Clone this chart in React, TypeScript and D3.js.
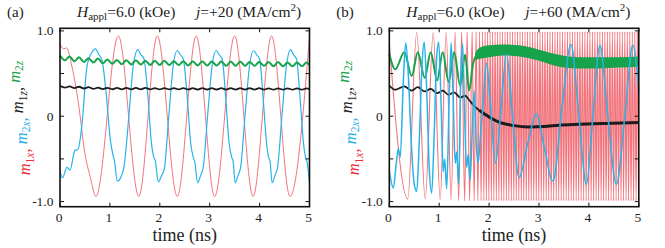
import React from 'react';
import * as d3 from 'd3';

const width = 665;
const height = 248;
const font = 'Liberation Serif';

const timeTicks = [0, 1, 2, 3, 4, 5];
const yMajor = [-1, 0, 1];
const yMinor = [-0.5, 0.5];
const yTickLabels = ['-1.0', '0', '1.0'];

const colors = { m1x: '#f2737b', m2x: '#27b3ea', m1z: '#1c1c1c', m2z: '#16a34c' };
const labelColors = { m1x: '#ee2d38', m2x: '#1fb0e8', m1z: '#222222', m2z: '#17a04a' };

// ---- panel (a), j = +20 ----
const redA = [
  [0, 0.85], [0.07, 0.79], [0.13, 0.8], [0.24, 0.58], [0.37, 0.15], [0.5, -0.44], [0.61, -0.72], [0.72, -0.94],
  [1.17, 0.94], [1.58, -0.94], [1.95, 0.94], [2.35, -0.94], [2.73, 0.94], [3.1, -0.94], [3.5, 0.94],
  [3.87, -0.94], [4.24, 0.94], [4.61, -0.94], [5.0, 0.93],
];
const blueA = [
  [0, -0.65], [0.05, -0.72], [0.14, -0.6], [0.2, -0.63], [0.3, -0.4], [0.36, -0.39], [0.44, -0.1], [0.54, 0.58],
  [0.64, 0.75], [0.71, 0.79], [0.78, 0.72], [0.84, 0.66], [0.92, 0.3], [1.01, -0.28], [1.06, -0.45], [1.09, -0.52],
  [1.15, -0.76], [1.23, -0.7], [1.28, -0.6], [1.38, 0.0], [1.47, 0.6], [1.56, 0.78], [1.62, 0.72], [1.68, 0.68],
  [1.76, 0.25], [1.83, -0.3], [1.88, -0.48], [1.91, -0.52], [1.97, -0.77], [2.04, -0.69], [2.09, -0.62],
  [2.18, 0.0], [2.27, 0.6], [2.35, 0.77], [2.41, 0.72], [2.47, 0.67], [2.55, 0.22], [2.62, -0.32], [2.67, -0.48],
  [2.7, -0.53], [2.76, -0.78], [2.82, -0.69], [2.87, -0.6], [2.96, 0.02], [3.05, 0.6], [3.13, 0.77], [3.19, 0.72],
  [3.25, 0.67], [3.32, 0.22], [3.39, -0.32], [3.44, -0.48], [3.47, -0.53], [3.51, -0.78], [3.57, -0.69],
  [3.62, -0.6], [3.71, 0.02], [3.8, 0.6], [3.88, 0.77], [3.94, 0.72], [4.0, 0.67], [4.07, 0.22], [4.14, -0.32],
  [4.18, -0.48], [4.21, -0.53], [4.25, -0.78], [4.31, -0.69], [4.36, -0.6], [4.45, 0.02], [4.54, 0.6],
  [4.62, 0.78], [4.68, 0.72], [4.74, 0.67], [4.81, 0.22], [4.88, -0.32], [4.92, -0.48], [4.95, -0.53], [5.0, -0.78],
];
const greenA = [
  [0, 0.71], [0.1, 0.655], [0.19, 0.7], [0.29, 0.645], [0.38, 0.69], [0.48, 0.635], [0.57, 0.68], [0.67, 0.63],
  [0.76, 0.675], [0.86, 0.62], [0.95, 0.665], [1.05, 0.615], [1.14, 0.66], [1.24, 0.61], [1.33, 0.655],
  [1.43, 0.605], [1.52, 0.655], [1.62, 0.605], [1.71, 0.65], [1.81, 0.6], [1.9, 0.65], [2.0, 0.6], [2.09, 0.65],
  [2.19, 0.6], [2.28, 0.645], [2.38, 0.6], [2.47, 0.645], [2.57, 0.595], [2.66, 0.645], [2.76, 0.595],
  [2.85, 0.645], [2.95, 0.595], [3.04, 0.64], [3.14, 0.595], [3.23, 0.64], [3.33, 0.59], [3.42, 0.64],
  [3.52, 0.59], [3.61, 0.64], [3.71, 0.59], [3.8, 0.635], [3.9, 0.59], [3.99, 0.635], [4.09, 0.59],
  [4.18, 0.635], [4.28, 0.585], [4.37, 0.635], [4.47, 0.585], [4.56, 0.63], [4.66, 0.585], [4.75, 0.63],
  [4.85, 0.585], [4.94, 0.63], [5.0, 0.6],
];
const blackA = [
  [0, 0.355], [0.1, 0.335], [0.19, 0.35], [0.29, 0.33], [0.38, 0.345], [0.48, 0.325], [0.57, 0.34], [0.67, 0.32],
  [0.76, 0.335], [0.86, 0.318], [0.95, 0.333], [1.05, 0.316], [1.14, 0.332], [1.24, 0.315], [1.33, 0.332],
  [1.43, 0.315], [1.52, 0.331], [1.62, 0.315], [1.71, 0.331], [1.81, 0.314], [1.9, 0.33], [2.0, 0.314],
  [2.09, 0.33], [2.19, 0.314], [2.28, 0.33], [2.38, 0.314], [2.47, 0.33], [2.57, 0.313], [2.66, 0.329],
  [2.76, 0.313], [2.85, 0.329], [2.95, 0.313], [3.04, 0.329], [3.14, 0.313], [3.23, 0.329], [3.33, 0.312],
  [3.42, 0.328], [3.52, 0.312], [3.61, 0.328], [3.71, 0.312], [3.8, 0.328], [3.9, 0.312], [3.99, 0.328],
  [4.09, 0.311], [4.18, 0.327], [4.28, 0.311], [4.37, 0.327], [4.47, 0.311], [4.56, 0.327], [4.66, 0.311],
  [4.75, 0.327], [4.85, 0.311], [4.94, 0.327], [5.0, 0.318],
];

// ---- panel (b), j = +60 ----
const redBEarly = [
  [0, 0.86], [0.37, -0.97], [0.55, 0.98], [0.72, -0.97], [0.88, 0.98], [1.02, -0.98], [1.14, 0.98], [1.24, -0.98],
  [1.32, 0.99], [1.39, -0.99], [1.45, 0.99], [1.51, -0.99], [1.56, 0.99], [1.61, -0.99], [1.66, 0.99],
];
// fast precession: times of successive extrema (min, max, min, ...)
const redBFastTimes = [
  1.7, 1.74, 1.775, 1.81, 1.84, 1.87, 1.895, 1.92, 1.945, 1.97, 1.995, 2.02, 2.045, 2.07, 2.095, 2.12, 2.145,
  2.17, 2.195, 2.22, 2.245, 2.27, 2.295, 2.32, 2.345, 2.37, 2.395, 2.42, 2.445, 2.47, 2.495, 2.52, 2.545, 2.57,
  2.595, 2.62, 2.645, 2.67, 2.695, 2.72, 2.745, 2.77, 2.795, 2.82, 2.845, 2.87, 2.895, 2.92, 2.945, 2.97, 2.995,
  3.02, 3.045, 3.07, 3.095, 3.12, 3.145, 3.17, 3.195, 3.22, 3.245, 3.27, 3.295, 3.32, 3.345, 3.37, 3.395, 3.42,
  3.445, 3.47, 3.495, 3.52, 3.545, 3.57, 3.595, 3.62, 3.645, 3.67, 3.695, 3.72, 3.745, 3.77, 3.795, 3.82, 3.845,
  3.87, 3.895, 3.92, 3.945, 3.97, 3.995, 4.02, 4.045, 4.07, 4.095, 4.12, 4.145, 4.17, 4.195, 4.22, 4.245, 4.27,
  4.295, 4.32, 4.345, 4.37, 4.395, 4.42, 4.445, 4.47, 4.495, 4.52, 4.545, 4.57, 4.595, 4.62, 4.645, 4.67, 4.695,
  4.72, 4.745, 4.77, 4.795, 4.82, 4.845, 4.87, 4.895, 4.92, 4.945, 4.97, 4.995,
];
const redBFastMin = -0.99;
const redBFastMax = 0.99;

const blueB = [
  [0, -0.64], [0.08, -0.84], [0.14, -0.55], [0.18, -0.38], [0.22, -0.48], [0.28, 0.4], [0.33, 0.86], [0.38, 0.5],
  [0.44, -0.3], [0.5, -0.8], [0.55, -0.88], [0.6, -0.3], [0.66, 0.65], [0.7, 0.87], [0.75, 0.3], [0.8, -0.6],
  [0.85, -0.9], [0.9, -0.2], [0.95, 0.7], [0.99, 0.87], [1.04, 0.1], [1.08, -0.65], [1.11, -0.5], [1.15, -0.85],
  [1.2, 0.2], [1.24, 0.86], [1.28, 0.2], [1.32, -0.55], [1.35, -0.42], [1.39, -0.8], [1.43, 0.4], [1.47, 0.85],
  [1.51, 0.0], [1.55, -0.6], [1.58, -0.45], [1.62, -0.75], [1.66, -0.2], [1.7, 0.3], [1.74, -0.3], [1.78, -0.55],
  [1.83, -0.2], [1.88, 0.15], [1.95, 0.62], [2.03, 0.1], [2.13, -0.55], [2.24, 0.1], [2.35, 0.73], [2.47, 0.0],
  [2.6, -0.72], [2.78, -0.3], [2.95, 0.03], [3.1, -0.35], [3.28, -0.76], [3.46, 0.1], [3.64, 0.84], [3.8, 0.0],
  [3.95, -0.8], [4.08, 0.0], [4.22, 0.83], [4.38, 0.0], [4.55, -0.8], [4.72, 0.0], [4.88, 0.83], [5.0, 0.3],
];
const greenBEarly = [
  [0, 0.73], [0.12, 0.55], [0.3, 0.75], [0.45, 0.47], [0.57, 0.75], [0.71, 0.45], [0.83, 0.75], [0.96, 0.42],
  [1.07, 0.75], [1.19, 0.4], [1.3, 0.75], [1.42, 0.36], [1.52, 0.72], [1.6, 0.3], [1.68, 0.62], [1.75, 0.72],
];
// fast ripple after the transition appears as a band
const greenBandT = [1.72, 1.8, 2.0, 2.3, 2.6, 3.0, 3.4, 3.8, 4.2, 4.6, 5.0];
const greenBandHi = [0.74, 0.8, 0.83, 0.84, 0.83, 0.78, 0.72, 0.69, 0.69, 0.69, 0.7];
const greenBandLo = [0.66, 0.67, 0.69, 0.71, 0.7, 0.65, 0.58, 0.56, 0.56, 0.57, 0.58];

const blackBEarly = [
  [0, 0.36], [0.12, 0.31], [0.3, 0.35], [0.45, 0.3], [0.57, 0.34], [0.71, 0.29], [0.83, 0.32], [0.96, 0.27],
  [1.07, 0.3], [1.19, 0.25], [1.3, 0.28], [1.42, 0.22], [1.52, 0.24], [1.6, 0.19], [1.7, 0.12], [1.8, 0.07],
];
const blackBLate = [
  [1.8, 0.07], [1.9, 0.03], [2.0, -0.01], [2.2, -0.07], [2.5, -0.11], [2.8, -0.125], [3.1, -0.12], [3.4, -0.105],
  [3.8, -0.095], [4.3, -0.085], [5.0, -0.075],
];

function YLabel({ x, y }) {
  const parts = [
    ['1', 'x', 'm1x'],
    ['2', 'x', 'm2x'],
    ['1', 'z', 'm1z'],
    ['2', 'z', 'm2z'],
  ];
  return (
    <text transform={`translate(${x},${y}) rotate(-90)`} textAnchor="middle" fontSize={16.5} fontFamily={font}>
      {parts.map((p, i) => (
        <React.Fragment key={i}>
          <tspan fill={labelColors[p[2]]} fontStyle="italic" dy={i === 0 ? 0 : -3.5}>m</tspan>
          <tspan fill={labelColors[p[2]]} fontSize={11.5} dy={3.5}>{p[0]}</tspan>
          <tspan fill={labelColors[p[2]]} fontSize={11.5} fontStyle="italic">{p[1]}</tspan>
          {i < 3 && <tspan fill={labelColors[p[2]]} dy={-3.5}>{', '}</tspan>}
          {i < 3 && <tspan dy={3.5}>{''}</tspan>}
        </React.Fragment>
      ))}
    </text>
  );
}

function Panel({ left, tag, current, children }) {
  const x = d3.scaleLinear().domain([0, 5]).range([left, left + 249.5]);
  const y = d3.scaleLinear().domain([-1.06, 1.03]).range([206.7, 28.3]);
  const top = y(1.03);
  const bottom = y(-1.06);
  const tick = 4;

  return (
    <g>
      <text x={left - 53} y={17} fontSize={15} fontFamily={font} fill="#222">{tag}</text>
      <text x={left + 17} y={17} fontSize={15.5} fontFamily={font} fill="#222">
        <tspan fontStyle="italic">H</tspan>
        <tspan fontSize={11} dy={3}>appl</tspan>
        <tspan dy={-3}>=6.0 (kOe)</tspan>
      </text>
      <text x={left + 136} y={17} fontSize={15.5} fontFamily={font} fill="#222">
        <tspan fontStyle="italic">j</tspan>
        <tspan>{`=${current} (MA/cm`}</tspan>
        <tspan fontSize={11} dy={-6}>2</tspan>
        <tspan dy={6}>)</tspan>
      </text>

      {/* the curves */}
      {children(x, y)}

      {/* frame and inward ticks */}
      <rect x={x(0)} y={top} width={x(5) - x(0)} height={bottom - top} fill="none" stroke="#111" strokeWidth={1.6} />
      {[...yMajor, ...yMinor].map(v => (
        <g key={v}>
          <line x1={x(0)} x2={x(0) + tick} y1={y(v)} y2={y(v)} stroke="#111" strokeWidth={1} />
          <line x1={x(5)} x2={x(5) - tick} y1={y(v)} y2={y(v)} stroke="#111" strokeWidth={1} />
        </g>
      ))}
      {timeTicks.map(t => (
        <g key={t}>
          <line x1={x(t)} x2={x(t)} y1={bottom} y2={bottom - tick} stroke="#111" strokeWidth={1} />
          <line x1={x(t)} x2={x(t)} y1={top} y2={top + tick} stroke="#111" strokeWidth={1} />
          <text x={x(t) - 1} y={221.5} textAnchor="middle" fontSize={13.5} fontFamily={font} fill="#222">{t}</text>
        </g>
      ))}
      {yMajor.map((v, i) => (
        <text key={v} x={x(0) - 6.5} y={y(v) + 4.5} textAnchor="end" fontSize={13.5} fontFamily={font} fill="#222">
          {yTickLabels[i]}
        </text>
      ))}
      <text x={x(2.5)} y={241} textAnchor="middle" fontSize={18} fontFamily={font} fill="#222">time (ns)</text>
      <YLabel x={left - 30} y={118} />
    </g>
  );
}

const makeLine = (x, y) =>
  d3.line().x(d => x(d[0])).y(d => y(d[1])).curve(d3.curveMonotoneX);

export default function App() {
  const redB = [
    ...redBEarly,
    ...redBFastTimes.map((t, i) => [t, i % 2 === 0 ? redBFastMin : redBFastMax]),
  ];
  const band = greenBandT.map((t, i) => ({ t, hi: greenBandHi[i], lo: greenBandLo[i] }));

  return (
    <svg width={width} height={height} style={{ display: 'block', position: 'absolute', left: 0, top: 0 }}>
      <rect width={width} height={height} fill="#fff" />
      <Panel left={60} tag="(a)" current="+20">
        {(x, y) => {
          const line = makeLine(x, y);
          return (
            <g fill="none">
              <path d={line(redA)} stroke={colors.m1x} strokeWidth={1} />
              <path d={line(blueA)} stroke={colors.m2x} strokeWidth={1.2} />
              <path d={line(blackA)} stroke={colors.m1z} strokeWidth={1.8} />
              <path d={line(greenA)} stroke={colors.m2z} strokeWidth={2} />
            </g>
          );
        }}
      </Panel>
      <Panel left={389.3} tag="(b)" current="+60">
        {(x, y) => {
          const line = makeLine(x, y);
          const area = d3.area()
            .x(d => x(d.t))
            .y0(d => y(d.lo))
            .y1(d => y(d.hi))
            .curve(d3.curveMonotoneX);
          return (
            <g fill="none">
              <path d={line(redB)} stroke="#f2737b" strokeWidth={1.1} />
              <path d={line(greenBEarly)} stroke={colors.m2z} strokeWidth={2} />
              <path d={area(band)} fill={colors.m2z} />
              <path d={line(blackBEarly)} stroke={colors.m1z} strokeWidth={1.8} />
              <path d={line(blackBLate)} stroke={colors.m1z} strokeWidth={3} />
              <path d={line(blueB)} stroke={colors.m2x} strokeWidth={1.5} />
            </g>
          );
        }}
      </Panel>
    </svg>
  );
}
